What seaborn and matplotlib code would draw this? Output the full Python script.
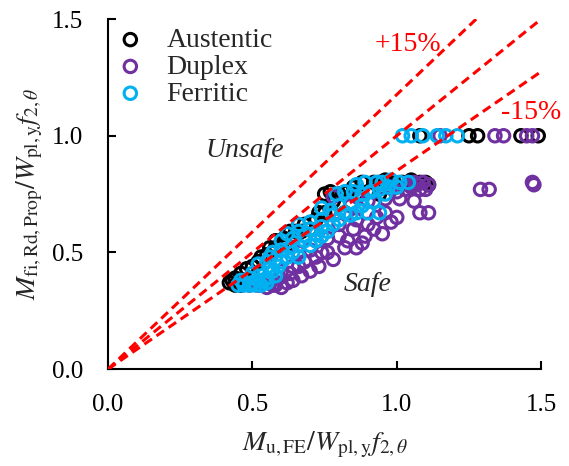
import matplotlib
matplotlib.use("Agg")
import matplotlib.pyplot as plt
import seaborn as sns
import numpy as np

# ---- data ----
aus_x = [0.42, 0.44, 0.46, 0.48, 0.50, 0.44, 0.46, 0.48, 0.50, 0.52, 0.53, 0.55, 0.57,
         0.56, 0.58, 0.60, 0.62, 0.63, 0.65, 0.67, 0.70, 0.73, 0.75, 0.77, 0.82,
         0.75, 0.77, 0.80, 0.83, 0.86, 0.90, 0.94,
         0.92, 0.94, 0.96, 0.99, 1.02, 1.05, 1.08, 1.10, 1.11,
         0.43, 0.58, 0.61, 0.68, 0.72, 0.78, 0.85, 0.88,
         1.08, 1.25, 1.28, 1.43, 1.49]
aus_y = [0.37, 0.36, 0.36, 0.37, 0.37, 0.39, 0.41, 0.43, 0.44, 0.46, 0.48, 0.49, 0.50,
         0.52, 0.52, 0.53, 0.53, 0.59, 0.59, 0.59, 0.60, 0.67, 0.67, 0.68, 0.67,
         0.75, 0.76, 0.75, 0.76, 0.75, 0.76, 0.75,
         0.80, 0.80, 0.81, 0.80, 0.80, 0.81, 0.80, 0.80, 0.79,
         0.38, 0.55, 0.56, 0.62, 0.64, 0.72, 0.78, 0.80,
         1.00, 1.00, 1.00, 1.00, 1.00]

dup_x = [0.49, 0.52, 0.55, 0.58, 0.60, 0.62, 0.56, 0.59, 0.64, 0.67, 0.70, 0.73,
         0.60, 0.64, 0.68, 0.78, 0.66, 0.70, 0.74, 0.82, 0.86, 0.88,
         0.72, 0.76, 0.80, 0.85, 0.89, 0.92, 0.95, 0.80, 0.86, 0.93, 0.98, 1.00,
         0.84, 0.90, 0.96, 1.01, 1.06, 0.78, 0.86, 0.92,
         1.03, 1.05, 1.07, 1.09, 1.11, 1.06, 1.08, 1.10, 1.04,
         0.53, 0.57, 0.63, 0.66, 0.72, 0.76, 0.83, 0.90, 0.96, 1.00, 0.98,
         1.08, 1.11, 1.29, 1.32, 1.47, 1.475,
         1.15, 1.34, 1.37, 1.45, 1.47]
dup_y = [0.36, 0.36, 0.35, 0.36, 0.35, 0.37, 0.38, 0.39, 0.38, 0.40, 0.42, 0.44,
         0.42, 0.44, 0.46, 0.47, 0.50, 0.51, 0.50, 0.52, 0.52, 0.54,
         0.55, 0.56, 0.57, 0.60, 0.57, 0.60, 0.58, 0.62, 0.64, 0.65, 0.63, 0.65,
         0.70, 0.72, 0.73, 0.73, 0.72, 0.74, 0.74, 0.76,
         0.77, 0.78, 0.79, 0.80, 0.79, 0.80, 0.77, 0.77, 0.79,
         0.37, 0.36, 0.41, 0.44, 0.48, 0.50, 0.55, 0.62, 0.67, 0.76, 0.78,
         0.67, 0.67, 0.77, 0.77, 0.80, 0.79,
         1.00, 1.00, 1.00, 1.00, 1.00]

fer_x = [0.45, 0.47, 0.49, 0.51, 0.53, 0.55, 0.46, 0.49, 0.52, 0.55, 0.58,
         0.50, 0.53, 0.56, 0.59, 0.52, 0.55, 0.58, 0.62, 0.66,
         0.57, 0.60, 0.63, 0.66, 0.70, 0.60, 0.64, 0.68, 0.72, 0.76,
         0.66, 0.70, 0.74, 0.78, 0.70, 0.74, 0.78, 0.82, 0.86, 0.90, 0.94,
         0.77, 0.80, 0.84, 0.88, 0.79, 0.82, 0.85, 0.88, 0.91, 0.94, 0.97, 1.00,
         0.93, 0.95, 0.98, 1.01, 1.04,
         0.47, 0.50, 0.54, 0.57, 0.60, 0.64, 0.68, 0.72, 0.74, 0.80, 0.84, 0.88,
         0.92, 0.96, 0.86, 0.89, 0.74, 0.66, 0.62, 0.56,
         1.02, 1.05, 1.09, 1.14, 1.17, 1.21]
fer_y = [0.36, 0.36, 0.36, 0.36, 0.36, 0.37, 0.38, 0.39, 0.38, 0.39, 0.40,
         0.41, 0.42, 0.43, 0.44, 0.45, 0.46, 0.47, 0.48, 0.48,
         0.50, 0.51, 0.52, 0.53, 0.53, 0.55, 0.56, 0.57, 0.58, 0.59,
         0.59, 0.60, 0.61, 0.62, 0.63, 0.64, 0.66, 0.67, 0.67, 0.67, 0.67,
         0.68, 0.70, 0.71, 0.73, 0.75, 0.76, 0.76, 0.75, 0.76, 0.77, 0.78, 0.78,
         0.80, 0.80, 0.81, 0.80, 0.80,
         0.37, 0.37, 0.38, 0.42, 0.46, 0.50, 0.55, 0.55, 0.57, 0.64, 0.66, 0.70,
         0.72, 0.75, 0.79, 0.80, 0.69, 0.62, 0.58, 0.48,
         1.00, 1.00, 1.00, 1.00, 1.00, 1.00]

series_names = ["Austentic", "Duplex", "Ferritic"]
series_colors = ["#000000", "#7030A0", "#00B0F0"]
ref_slopes = [1 / 0.85, 1.0, 0.85]
tick_vals = [0.0, 0.5, 1.0, 1.5]
tick_labels = ["0.0", "0.5", "1.0", "1.5"]

# ---- style ----
sns.set_style("ticks")
plt.rcParams['font.family'] = ['Liberation Serif', 'DejaVu Serif']
plt.rcParams['mathtext.fontset'] = 'stix'

fig, ax = plt.subplots(figsize=(5.69, 4.66), dpi=100)
fig.subplots_adjust(left=0.19, right=0.951, bottom=0.208, top=0.959)

for name, xs, ys, col in zip(series_names, [aus_x, dup_x, fer_x], [aus_y, dup_y, fer_y], series_colors):
    sns.scatterplot(x=xs, y=ys, ax=ax, s=80, marker='o', color=col, facecolor='none',
                    edgecolor=col, linewidth=2.2, label=name, clip_on=False, zorder=2)

ref_x = np.array([0.0, 1.5])
for sl in ref_slopes:
    ax.plot(ref_x, sl * ref_x, color='#FF0000', lw=2.2, ls=(0, (3, 1.8)), zorder=3)

ax.set_xlim(0, 1.5)
ax.set_ylim(0, 1.5)
ax.set_xticks(tick_vals)
ax.set_xticklabels(tick_labels)
ax.set_yticks(tick_vals)
ax.set_yticklabels(tick_labels)
ax.tick_params(direction='in', length=6, width=1.5, pad=18, labelsize=18, colors='black')
for sp in ['top', 'right']:
    ax.spines[sp].set_visible(False)
for sp in ['left', 'bottom']:
    ax.spines[sp].set_linewidth(1.5)
    ax.spines[sp].set_color('black')

ax.set_xlabel(r'$M_{\mathrm{u,FE}}/W_{\mathrm{pl,y}}f_{2,\theta}$', fontsize=20, labelpad=10)
ax.set_ylabel(r'$M_{\mathrm{fi,Rd,Prop}}/W_{\mathrm{pl,y}}f_{2,\theta}$', fontsize=20, labelpad=5)

ax.text(1.037, 1.393, '+15%', color='#FF0000', fontsize=20, ha='center', va='center')
ax.text(1.466, 1.10, '-15%', color='#FF0000', fontsize=20, ha='center', va='center', clip_on=False)
ax.text(0.473, 0.935, 'Unsafe', fontsize=20, style='italic', ha='center', va='center')
ax.text(0.90, 0.361, 'Safe', fontsize=20, style='italic', ha='center', va='center')

leg = ax.legend(loc='upper left', bbox_to_anchor=(0.0, 1.0), frameon=False, fontsize=20,
                handletextpad=0.8, labelspacing=0.05, borderaxespad=0.0, borderpad=0.3,
                scatterpoints=1, handlelength=1.0)

fig.savefig("out.png", dpi=100)
